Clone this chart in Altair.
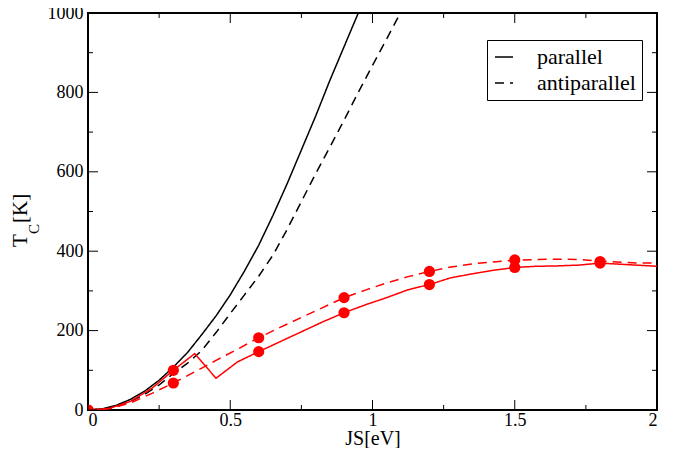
import altair as alt
import pandas as pd

# ---- data ----
par_js = [0, 0.05, 0.1, 0.15, 0.2, 0.25, 0.3, 0.35, 0.4, 0.45, 0.5, 0.55, 0.6, 0.65,
          0.7, 0.75, 0.8, 0.85, 0.9, 0.95, 1.0]
par_tc = [0, 3, 12, 27, 48, 75, 108, 145, 190, 237, 290, 350, 415, 490,
          570, 655, 740, 830, 915, 1000, 1085]

anti_js = [0, 0.05, 0.1, 0.15, 0.2, 0.25, 0.3, 0.35, 0.4, 0.45, 0.5, 0.55, 0.6, 0.65,
           0.7, 0.75, 0.8, 0.85, 0.9, 0.95, 1.0, 1.05, 1.1, 1.15]
anti_tc = [0, 2, 9, 22, 40, 63, 92, 118, 150, 195, 243, 290, 337, 390,
           455, 525, 595, 662, 730, 800, 868, 935, 1003, 1070]

red_js = [0, 0.075, 0.15, 0.225, 0.3, 0.375, 0.45, 0.525, 0.6, 0.675, 0.75, 0.825, 0.9,
          0.975, 1.05, 1.125, 1.2, 1.275, 1.35, 1.425, 1.5, 1.575, 1.65, 1.725, 1.8,
          1.875, 1.95, 2.025]
red_par_tc = [0, 4, 22, 55, 100, 142, 80, 121, 147, 172, 197, 222, 245,
              265, 283, 303, 316, 333, 343, 352, 359, 362, 363, 365, 370,
              367, 364, 361]
red_anti_tc = [0, 3, 18, 42, 68, 96, 125, 153, 182, 208, 233, 258, 283,
               302, 320, 336, 349, 360, 368, 373, 377, 379, 380, 379, 375,
               372, 370, 370]

dot_js = [0, 0.3, 0.6, 0.9, 1.2, 1.5, 1.8]
dot_par_tc = [0, 100, 147, 245, 316, 359, 370]
dot_anti_tc = [0, 68, 182, 283, 349, 378, 374]

series = ["parallel", "antiparallel"]
x_major = [0, 0.5, 1, 1.5, 2]
x_minor = [0.25, 0.75, 1.25, 1.75]
y_major = [0, 200, 400, 600, 800, 1000]
y_minor = [100, 300, 500, 700, 900]

FONT = "Liberation Serif"

black_df = pd.concat([
    pd.DataFrame({"js": par_js, "tc": par_tc, "kind": series[0]}),
    pd.DataFrame({"js": anti_js, "tc": anti_tc, "kind": series[1]}),
])
red_df = pd.concat([
    pd.DataFrame({"js": red_js, "tc": red_par_tc, "kind": series[0]}),
    pd.DataFrame({"js": red_js, "tc": red_anti_tc, "kind": series[1]}),
])
dot_df = pd.concat([
    pd.DataFrame({"js": dot_js, "tc": dot_par_tc}),
    pd.DataFrame({"js": dot_js, "tc": dot_anti_tc}),
])

xs = alt.Scale(domain=[0, 2], nice=False, zero=False)
ys = alt.Scale(domain=[0, 1000], nice=False)
dash = alt.Scale(domain=series, range=[[1, 0], [9, 6]])

x_axis = alt.Axis(values=x_major, format="~g", title="JS[eV]", ticks=False, domain=False,
                  grid=False, labelPadding=1, titleY=34, titleBaseline="alphabetic")
y_axis = alt.Axis(values=y_major, title=None, format="d", ticks=False,
                  domain=False, grid=False, labelPadding=5)


def X():
    return alt.X("js:Q", scale=xs, axis=x_axis, title="JS[eV]")


def Y():
    return alt.Y("tc:Q", scale=ys, axis=y_axis, title=None)


black = alt.Chart(black_df).mark_line(color="black", strokeWidth=1.5, clip=True).encode(
    x=X(), y=Y(),
    strokeDash=alt.StrokeDash("kind:N", scale=dash, title=None, sort=series),
    detail="kind:N",
)
red = alt.Chart(red_df).mark_line(color="#ff0000", strokeWidth=1.5, clip=True).encode(
    x=X(), y=Y(),
    strokeDash=alt.StrokeDash("kind:N", scale=dash, title=None, sort=series),
    detail="kind:N",
)
dots = alt.Chart(dot_df).mark_circle(color="#ff0000", size=125, opacity=1, clip=True).encode(
    x=X(), y=Y(),
)


def xticks(vals, at, off):
    return alt.Chart(pd.DataFrame({"js": vals})).transform_calculate(
        tc=str(at)).mark_rule(color="black", strokeWidth=1, y2Offset=off).encode(
        x=X(), y=Y(), y2="tc:Q",
    )


def yticks(vals, at, off):
    return alt.Chart(pd.DataFrame({"tc": vals})).transform_calculate(
        js=str(at)).mark_rule(color="black", strokeWidth=1, x2Offset=off).encode(
        x=X(), x2="js:Q", y=Y(),
    )


ticks = [
    xticks(x_major, 0, -10), xticks(x_minor, 0, -5),
    xticks(x_major, 1000, 10), xticks(x_minor, 1000, 5),
    yticks(y_major, 0, 10), yticks(y_minor, 0, 5),
    yticks(y_major, 2, -10), yticks(y_minor, 2, -5),
]

one = pd.DataFrame({"a": [0]})
t_main = alt.Chart(one).mark_text(text="T", angle=270, align="left", baseline="alphabetic",
                                  font=FONT, fontSize=21, color="black").encode(
    x=alt.value(-61), y=alt.value(234))
t_sub = alt.Chart(one).mark_text(text="C", angle=270, align="left", baseline="alphabetic",
                                 font=FONT, fontSize=15, color="black").encode(
    x=alt.value(-49), y=alt.value(221))
t_unit = alt.Chart(one).mark_text(text="[K]", angle=270, align="left", baseline="alphabetic",
                                  font=FONT, fontSize=21, color="black").encode(
    x=alt.value(-61), y=alt.value(210))

chart = alt.layer(black, red, dots, *ticks, t_main, t_sub, t_unit).properties(
    width=569, height=397,
    padding={"left": 80, "top": 5, "right": 11, "bottom": 38},
    autosize=alt.AutoSizeParams(type="none"),
).configure_view(
    stroke="black", strokeWidth=2
).configure_axis(
    labelFont=FONT, labelFontSize=18, labelColor="black",
    titleFont=FONT, titleFontSize=20, titleFontWeight="normal", titleColor="black",
).configure_legend(
    orient="none", legendX=399, legendY=27,
    strokeColor="black", fillColor="white", padding=6, cornerRadius=0,
    labelFont=FONT, labelFontSize=22, labelColor="black", labelOffset=22,
    symbolType="stroke", symbolSize=324, symbolStrokeWidth=1.5,
    symbolStrokeColor="black", rowPadding=4, labelLimit=300,
)

chart.save("out.html", embed_options={"renderer": "svg", "actions": False})
